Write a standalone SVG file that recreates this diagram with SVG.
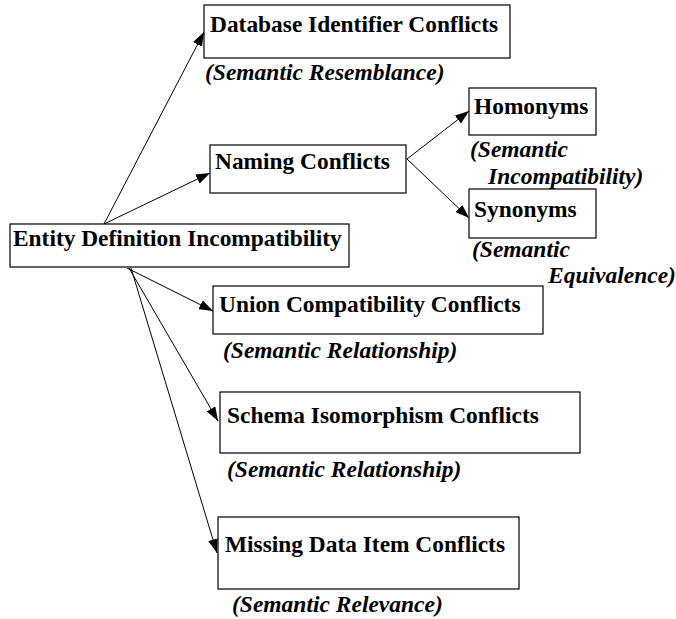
<svg xmlns="http://www.w3.org/2000/svg" width="676" height="619" viewBox="0 0 676 619">
  <style>
    .box { fill: #fff; stroke: #000; stroke-width: 1.2; }
    .name { font-family: "Liberation Serif", "Times New Roman", serif; font-weight: bold; font-size: 23.4px; fill: #000; }
    .note { font-family: "Liberation Serif", "Times New Roman", serif; font-weight: bold; font-style: italic; font-size: 23.5px; fill: #000; }
    .edge { stroke: #000; stroke-width: 1; fill: none; marker-end: url(#arrow); }
  </style>
  <defs>
    <marker id="arrow" viewBox="0 0 14 10" refX="14" refY="5" markerWidth="14" markerHeight="10" markerUnits="userSpaceOnUse" orient="auto">
      <path d="M0,0 L14,5 L0,10 Z" fill="#000"/>
    </marker>
  </defs>
  <rect width="676" height="619" fill="#fff"/>

  <g id="connectors">
    <line class="edge" x1="104" y1="224" x2="204" y2="32"/>
    <line class="edge" x1="104" y1="224" x2="210" y2="173"/>
    <line class="edge" x1="407" y1="159" x2="469" y2="111"/>
    <line class="edge" x1="407" y1="159" x2="469" y2="218"/>
    <line class="edge" x1="127" y1="268" x2="213" y2="311"/>
    <line class="edge" x1="129" y1="268" x2="218" y2="421"/>
    <line class="edge" x1="131" y1="268" x2="217" y2="553"/>
  </g>

  <g id="entity-definition">
    <rect class="box" x="10" y="224" width="339" height="43"/>
    <text class="name" x="13" y="246">Entity Definition Incompatibility</text>
  </g>

  <g id="database-identifier">
    <rect class="box" x="204" y="5" width="306" height="53"/>
    <text class="name" x="210" y="32">Database Identifier Conflicts</text>
    <text class="note" x="205" y="80">(Semantic Resemblance)</text>
  </g>

  <g id="naming">
    <rect class="box" x="210" y="145" width="196" height="48"/>
    <text class="name" x="215" y="169">Naming Conflicts</text>
  </g>

  <g id="homonyms">
    <rect class="box" x="469" y="88" width="127" height="47"/>
    <text class="name" x="474" y="114">Homonyms</text>
    <text class="note" x="470" y="157">(Semantic</text>
    <text class="note" x="488" y="184">Incompatibility)</text>
  </g>

  <g id="synonyms">
    <rect class="box" x="469" y="189" width="127" height="49"/>
    <text class="name" x="474" y="217">Synonyms</text>
    <text class="note" x="472" y="257">(Semantic</text>
    <text class="note" x="548" y="283">Equivalence)</text>
  </g>

  <g id="union-compatibility">
    <rect class="box" x="213" y="286" width="330" height="48"/>
    <text class="name" x="219" y="312">Union Compatibility Conflicts</text>
    <text class="note" x="223" y="358">(Semantic Relationship)</text>
  </g>

  <g id="schema-isomorphism">
    <rect class="box" x="220" y="392" width="360" height="61"/>
    <text class="name" x="227" y="423">Schema Isomorphism Conflicts</text>
    <text class="note" x="227" y="477">(Semantic Relationship)</text>
  </g>

  <g id="missing-data-item">
    <rect class="box" x="218" y="517" width="301" height="72"/>
    <text class="name" x="225" y="552">Missing Data Item Conflicts</text>
    <text class="note" x="232" y="612">(Semantic Relevance)</text>
  </g>
</svg>
